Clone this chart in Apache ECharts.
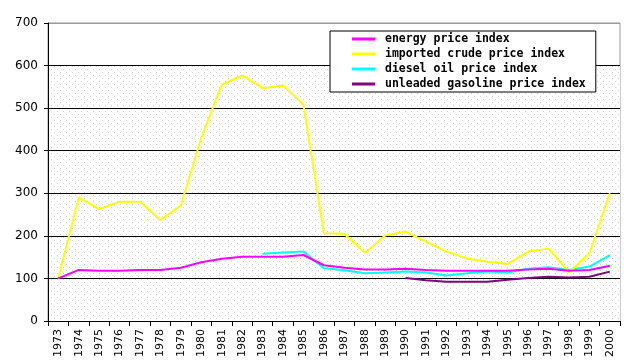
<!DOCTYPE html>
<html><head><meta charset="utf-8">
<script src="https://cdn.jsdelivr.net/npm/echarts@6/dist/echarts.min.js"></script>
<style>html,body{margin:0;padding:0;background:#fff}#c{width:637px;height:364px}</style>
</head><body><div id="c"></div>
<script>
const years = ['1973','1974','1975','1976','1977','1978','1979','1980','1981','1982','1983','1984','1985','1986','1987','1988','1989','1990','1991','1992','1993','1994','1995','1996','1997','1998','1999','2000'];
const energy = [100,120,118,118,120,120,125,138,146,151,151,151,155,131,125,121,121,123,120,118,118,118,118,121,123,118,120,130];
const crude = [100,290,263,280,280,237,272,430,555,577,547,553,508,206,205,160,201,210,186,163,147,139,134,163,170,114,159,300];
const diesel = [null,null,null,null,null,null,null,null,null,null,158,161,163,124,119,112,114,116,114,107,112,116,114,123,126,120,128,155];
const unleaded = [null,null,null,null,null,null,null,null,null,null,null,null,null,null,null,null,null,101,96,92,92,92,97,101,104,102,104,116];
const yTicks = [0,100,200,300,400,500,600,700];
const shadedTop = 600;
const names = ['energy price index','imported crude price index','diesel oil price index','unleaded gasoline price index'];
const colors = ['#ff00ff','#ffff00','#00ffff','#800080'];
const values = [energy, crude, diesel, unleaded];

// sparse dotted fill pattern
const pc = document.createElement('canvas');
pc.width = 6; pc.height = 6;
const pctx = pc.getContext('2d');
pctx.fillStyle = '#ffffff'; pctx.fillRect(0,0,6,6);
pctx.fillStyle = '#d4d4d4';
pctx.fillRect(0,0,1,1); pctx.fillRect(3,3,1,1);

const chart = echarts.init(document.getElementById('c'));
const series = names.map((n,i)=>({
  name:n, type:'line', data:values[i], showSymbol:false, symbol:'none',
  connectNulls:false, itemStyle:{color:colors[i]},
  lineStyle:{color:colors[i],width:2}, z:10-i
}));
series.push({
  name:'bg', type:'line', data:years.map(()=>null), z:1, silent:true,
  markArea:{silent:true, itemStyle:{color:{image:pc,repeat:'repeat'}}, data:[[{yAxis:0},{yAxis:shadedTop}]]}
});
chart.setOption({
  animation:false,
  backgroundColor:'#ffffff',
  grid:{left:48,right:17,top:23,bottom:43,show:true,backgroundColor:'#ffffff',borderColor:'#999999',borderWidth:1},
  legend:{
    orient:'vertical', left:330, top:31, width:287, height:66,
    backgroundColor:'#ffffff', borderColor:'#000000', borderWidth:1,
    padding:[2,10,2,22], itemGap:3, itemWidth:23, itemHeight:3, icon:'rect',
    data:names,
    textStyle:{fontFamily:'DejaVu Sans Mono',fontWeight:'bold',fontSize:11.5,color:'#000',padding:[0,0,0,5]}
  },
  xAxis:{
    type:'category', data:years, boundaryGap:true, z:3,
    axisLine:{lineStyle:{color:'#000',width:1}},
    axisTick:{show:true,interval:0,length:5,lineStyle:{color:'#000'}},
    axisLabel:{interval:0,rotate:90,fontFamily:'DejaVu Sans',fontSize:11,color:'#000',margin:8},
    splitLine:{show:false}
  },
  yAxis:{
    type:'value', min:yTicks[0], max:yTicks[yTicks.length-1], interval:100, z:3,
    axisLine:{show:true,lineStyle:{color:'#000',width:1}},
    axisTick:{show:true,length:4,lineStyle:{color:'#000'}},
    axisLabel:{fontFamily:'DejaVu Sans',fontSize:12,color:'#000',margin:10},
    splitLine:{show:true,lineStyle:{color:['#000','#000','#000','#000','#000','#000','#000','#999'],width:1}}
  },
  series: series
});
</script></body></html>
